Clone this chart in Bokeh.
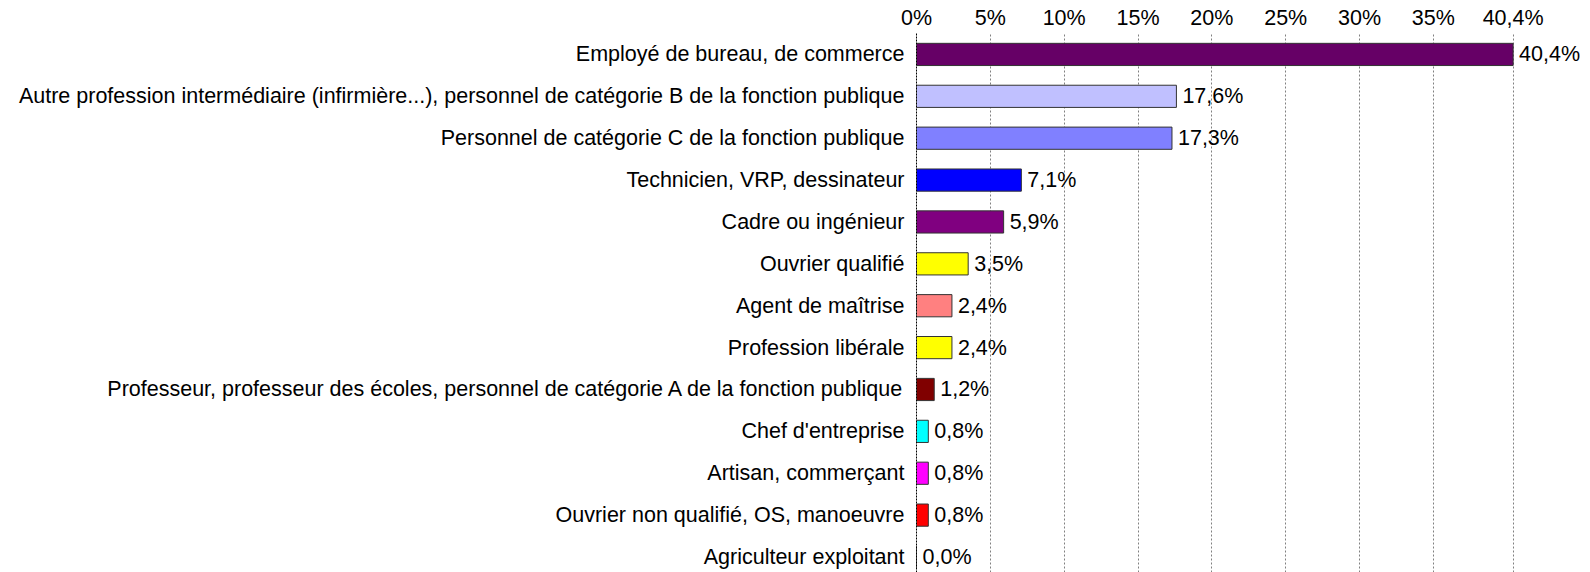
from bokeh.plotting import figure
from bokeh.models import Range1d, FixedTicker, ColumnDataSource
from bokeh.embed import file_html
from bokeh.resources import INLINE
from bokeh.core.properties import value

categories = [
    "Employé de bureau, de commerce",
    "Autre profession intermédiaire (infirmière...), personnel de catégorie B de la fonction publique",
    "Personnel de catégorie C de la fonction publique",
    "Technicien, VRP, dessinateur",
    "Cadre ou ingénieur",
    "Ouvrier qualifié",
    "Agent de maîtrise",
    "Profession libérale",
    "Professeur, professeur des écoles, personnel de catégorie A de la fonction publique",
    "Chef d'entreprise",
    "Artisan, commerçant",
    "Ouvrier non qualifié, OS, manoeuvre",
    "Agriculteur exploitant",
]
values = [40.4, 17.6, 17.3, 7.1, 5.9, 3.5, 2.4, 2.4, 1.2, 0.8, 0.8, 0.8, 0.0]
colors = ["#660066", "#C0C0FF", "#8080FF", "#0000FF", "#800080", "#FFFF00",
          "#FF8080", "#FFFF00", "#800000", "#00FFFF", "#FF00FF", "#FF0000", "#FFFFFF"]
x_ticks = [0, 5, 10, 15, 20, 25, 30, 35, 40.4]
x_tick_labels = ["0%", "5%", "10%", "15%", "20%", "25%", "30%", "35%", "40,4%"]

FONT = "Liberation Sans"
FS = "21.5px"

ypos = [-i for i in range(len(categories))]
labels = [f"{v:.1f}".replace(".", ",") + "%" for v in values]
src = ColumnDataSource(dict(y=ypos, v=values, c=colors, lab=labels))

p = figure(width=1590, height=572, output_backend="svg", toolbar_location=None,
           x_range=Range1d(0, 45.64), y_range=Range1d(-12.37, 0.5),
           x_axis_location="above", min_border_left=916, min_border_right=0,
           min_border_top=33, min_border_bottom=0)
p.outline_line_color = None
p.background_fill_color = "white"

p.hbar(y="y", left=0, right="v", height=0.53, fill_color="c",
       line_color="#333333", line_width=1, source=src)
p.text(x="v", y="y", text="lab", x_offset=6, text_baseline="middle",
       text_align="left", text_font=value(FONT), text_font_size=FS,
       text_color="black", source=src)

xa = p.xaxis[0]
xa.ticker = FixedTicker(ticks=x_ticks)
xa.major_label_overrides = {t: l for t, l in zip(x_ticks, x_tick_labels)}
xa.axis_line_color = None
xa.major_tick_line_color = None
xa.minor_tick_line_color = None
xa.major_label_standoff = -2
xa.major_label_text_font = FONT
xa.major_label_text_font_size = FS
xa.major_label_text_color = "black"

ya = p.yaxis[0]
ya.ticker = FixedTicker(ticks=ypos)
ya.major_label_overrides = {y: c for y, c in zip(ypos, categories)}
ya.axis_line_color = "black"
ya.axis_line_dash = "2 1"
ya.major_tick_line_color = None
ya.minor_tick_line_color = None
ya.major_label_standoff = 6
ya.major_label_text_font = FONT
ya.major_label_text_font_size = FS
ya.major_label_text_color = "black"

p.xgrid.ticker = FixedTicker(ticks=x_ticks[1:])
p.xgrid.grid_line_color = "#808080"
p.xgrid.grid_line_dash = "2 2"
p.ygrid.grid_line_color = None

open("out.html", "w").write(file_html(p, INLINE))
